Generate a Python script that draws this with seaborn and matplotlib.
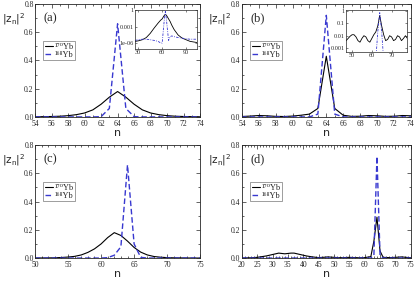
import numpy as np
import pandas as pd
import matplotlib
matplotlib.use('Agg')
import matplotlib.pyplot as plt
from matplotlib.ticker import MultipleLocator
import seaborn as sns

sns.set_style('ticks')
plt.rcParams['font.family'] = ['Liberation Serif', 'DejaVu Serif']
plt.rcParams['mathtext.fontset'] = 'dejavusans'

# (a) main panel, n = 54..74
n_a = list(range(54, 75))
yb170_a = [0.001, 0.002, 0.003, 0.005, 0.009, 0.016, 0.028, 0.05, 0.09, 0.14, 0.18,
           0.14, 0.09, 0.05, 0.028, 0.016, 0.009, 0.005, 0.003, 0.002, 0.001]
yb168_a = [0, 0, 0, 0, 0, 0, 0, 0, 0.002, 0.06, 0.66,
           0.06, 0.002, 0, 0, 0, 0, 0, 0, 0, 0]

# (a) inset, log scale
n_a_in = [26, 30, 35, 40, 45, 50, 55, 58, 60, 62, 63, 64, 65, 66, 68, 70, 72, 75, 80, 85, 90, 95, 104]
yb170_a_in = [2e-6, 2.5e-6, 4e-6, 1e-5, 6e-5, 6e-4, 5e-3, 0.016, 0.028, 0.09, 0.14, 0.18,
              0.14, 0.09, 0.028, 9e-3, 2e-3, 3e-4, 3e-5, 8e-6, 4e-6, 2e-6, 1.2e-6]
yb168_a_in = [3e-6, 4e-6, 5e-6, 5e-6, 4e-6, 3e-6, 2e-6, 1e-6, 1e-6, 2e-3, 0.06, 0.66,
              0.06, 2e-3, 3e-6, 1.5e-5, 2e-5, 1.5e-5, 1e-5, 8e-6, 6e-6, 5e-6, 5e-6]

# (b) main panel and inset, n = 47..78
n_b = list(range(47, 79))
yb170_b = [0.004, 0.006, 0.009, 0.012, 0.012, 0.008, 0.004, 0.003, 0.006, 0.010, 0.008,
           0.004, 0.003, 0.006, 0.012, 0.02, 0.06, 0.43, 0.06, 0.012, 0.004, 0.005,
           0.010, 0.008, 0.004, 0.005, 0.010, 0.008, 0.004, 0.006, 0.010, 0.006]
yb168_b = [1e-6, 1e-6, 1e-6, 1e-6, 1e-6, 1e-6, 1e-6, 1e-6, 1e-6, 1e-6, 1e-6,
           1e-6, 1e-6, 1e-6, 1e-6, 1e-4, 0.02, 0.72, 0.02, 1e-4, 1e-6, 1e-6,
           1e-6, 1e-6, 1e-6, 1e-6, 1e-6, 1e-6, 1e-6, 1e-6, 1e-6, 1e-6]

# (c) n = 50..75
n_c = list(range(50, 76))
yb170_c = [0.0, 0.0005, 0.001, 0.002, 0.004, 0.007, 0.012, 0.022, 0.04, 0.065, 0.1,
           0.145, 0.18, 0.16, 0.12, 0.075, 0.042, 0.022, 0.011, 0.006, 0.003,
           0.0015, 0.001, 0.0005, 0.0, 0.0]
yb168_c = [0, 0, 0, 0, 0, 0, 0, 0, 0, 0, 0,
           0.003, 0.02, 0.08, 0.66, 0.1, 0.005, 0, 0, 0, 0,
           0, 0, 0, 0, 0]

# (d) n = 20..75
n_d = [20, 23, 25, 28, 30, 32, 34, 36, 37, 39, 41, 43, 45, 47, 48, 50, 52, 55, 58, 60,
       62, 63, 64, 65, 66, 68, 70, 72, 75]
yb170_d = [0.0, 0.002, 0.005, 0.015, 0.025, 0.035, 0.03, 0.035, 0.035, 0.025, 0.015,
           0.008, 0.003, 0.006, 0.008, 0.005, 0.002, 0.005, 0.002, 0.003,
           0.01, 0.12, 0.29, 0.05, 0.005, 0.003, 0.005, 0.008, 0.002]
yb168_d = [0, 0, 0, 0, 0, 0, 0, 0, 0, 0, 0,
           0, 0, 0, 0, 0, 0, 0, 0, 0,
           0.0, 0.02, 0.72, 0.02, 0.0, 0, 0, 0, 0]

labels = ['¹⁷⁰Yb', '¹⁶⁸Yb']
black = 'black'
blue = '#3838d0'

fig = plt.figure(figsize=(4.17, 2.88), dpi=100)
boxes = {'a': [0.084, 0.594, 0.396, 0.392], 'b': [0.580, 0.594, 0.405, 0.392],
         'c': [0.084, 0.104, 0.396, 0.392], 'd': [0.580, 0.104, 0.405, 0.392]}
panels = {'a': (n_a, yb170_a, yb168_a, (54, 74), 2, 1),
          'b': (n_b, yb170_b, yb168_b, (54, 74), 2, 1),
          'c': (n_c, yb170_c, yb168_c, (50, 75), 5, 1),
          'd': (n_d, yb170_d, yb168_d, (20, 75), 5, 1)}

for key, (n, y1, y2, xl, step, minor) in panels.items():
    ax = fig.add_axes(boxes[key])
    sns.lineplot(x=n, y=y1, ax=ax, color=black, lw=0.8, label=labels[0])
    sns.lineplot(x=n, y=y2, ax=ax, color=blue, lw=1.0, ls=(0, (4, 2)), label=labels[1])
    ax.set_xlim(*xl)
    ax.set_ylim(0, 0.8)
    ax.xaxis.set_major_locator(MultipleLocator(step))
    ax.xaxis.set_minor_locator(MultipleLocator(minor))
    ax.yaxis.set_major_locator(MultipleLocator(0.2))
    ax.yaxis.set_minor_locator(MultipleLocator(0.1))
    ax.tick_params(which='both', direction='in', top=True, right=True, labelsize=5.5, pad=1)
    ax.tick_params(axis='x', pad=2)
    ax.tick_params(which='major', length=3, width=0.5)
    ax.tick_params(which='minor', length=1.5, width=0.5)
    for s in ax.spines.values():
        s.set_linewidth(0.6)
    ax.set_xlabel('n', family='DejaVu Sans', fontsize=8, labelpad=0)
    ax.text(0.05, 0.875, '(%s)' % key, transform=ax.transAxes, fontsize=9, va='center')
    ax.text(-0.2, 0.87, r'$|\mathrm{z_n}|^2$', transform=ax.transAxes, fontsize=7.5, va='center')
    ax.legend(loc='upper left', bbox_to_anchor=(0.05, 0.67), fontsize=6, handlelength=1.0,
              handletextpad=0.2, borderpad=0.15, labelspacing=0.05, frameon=True,
              fancybox=False, edgecolor='#555555', borderaxespad=0)
    ax.get_legend().get_frame().set_linewidth(0.5)

# insets
ins_a = fig.add_axes([0.324, 0.83, 0.149, 0.137])
sns.lineplot(x=n_a_in, y=yb170_a_in, ax=ins_a, color=black, lw=0.6)
sns.lineplot(x=n_a_in, y=yb168_a_in, ax=ins_a, color=blue, lw=0.6, ls=(0, (3, 1.5, 1, 1.5)))
ins_a.set_yscale('log')
ins_a.set_xlim(26, 104)
ins_a.set_ylim(8e-8, 1.5)
ins_a.set_yticks([1, 1e-3, 1e-6])
ins_a.set_yticklabels(['1', '0.001', '1e-06'])
ins_a.set_xticks([30, 60, 90])

ins_b = fig.add_axes([0.830, 0.82, 0.147, 0.147])
sns.lineplot(x=n_b, y=yb170_b, ax=ins_b, color=black, lw=0.6)
sns.lineplot(x=n_b, y=yb168_b, ax=ins_b, color=blue, lw=0.6, ls=(0, (3, 1.5, 1, 1.5)))
ins_b.set_yscale('log')
ins_b.set_xlim(47, 78)
ins_b.set_ylim(5e-4, 1.3)
ins_b.set_yticks([1, 0.1, 0.01, 0.001])
ins_b.set_yticklabels(['1', '0.1', '0.01', '0.001'])
ins_b.set_xticks([50, 60, 70])

for ins in (ins_a, ins_b):
    ins.minorticks_off()
    ins.tick_params(direction='in', top=True, right=True, labelsize=4.5, pad=0.8, length=1.5, width=0.4)
    for s in ins.spines.values():
        s.set_linewidth(0.5)
    ins.set_xlabel('')
    ins.set_ylabel('')

fig.savefig('out.png', dpi=100)
